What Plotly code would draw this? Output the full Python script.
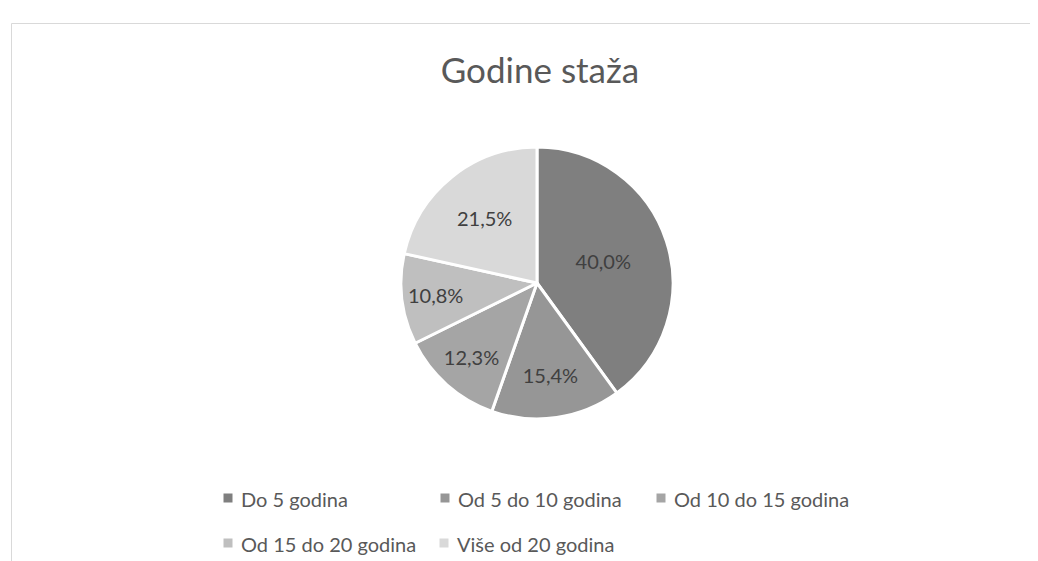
import plotly.graph_objects as go

# ---- data ----
categories = ["Do 5 godina", "Od 5 do 10 godina", "Od 10 do 15 godina",
              "Od 15 do 20 godina", "Više od 20 godina"]
counts = [26, 10, 8, 7, 14]          # 40,0% / 15,4% / 12,3% / 10,8% / 21,5%
title_text = "Godine staža"

# ---- style ----
colors = ["#7f7f7f", "#969696", "#a5a5a5", "#bfbfbf", "#d9d9d9"]
W, H = 1038, 561
FONT = "Lato, 'Open Sans', sans-serif"
cx, cy, r = 529, 275, 136

fig = go.Figure(go.Pie(
    labels=categories,
    values=counts,
    sort=False,
    direction="clockwise",
    rotation=0,
    marker=dict(colors=colors, line=dict(color="white", width=3)),
    texttemplate="%{percent:.1%}",
    textposition="inside",
    insidetextorientation="horizontal",
    textfont=dict(family=FONT, size=20, color="#404040"),
    showlegend=False,
    hoverinfo="label+percent",
    domain=dict(x=[(cx - r) / W, (cx + r) / W],
                y=[1 - (cy + r) / H, 1 - (cy - r) / H]),
))

shapes = []
annotations = []

# chart frame (partially visible)
shapes.append(dict(type="rect", xref="paper", yref="paper",
                   x0=3.5 / W, x1=(W + 5) / W, y0=1 - 15.5 / H, y1=-5 / H,
                   line=dict(color="#d9d9d9", width=1), fillcolor="rgba(0,0,0,0)",
                   layer="below"))

# legend (Excel-like, two rows)
legend_pos = [(220, 490), (437, 490), (653, 490), (220, 535), (436, 535)]
for name, col, (sx, sy) in zip(categories, colors, legend_pos):
    shapes.append(dict(type="rect", xref="paper", yref="paper",
                       xsizemode="pixel", ysizemode="pixel",
                       xanchor=sx / W, yanchor=1 - sy / H,
                       x0=-4.5, x1=4.5, y0=-4.5, y1=4.5,
                       fillcolor=col, line=dict(width=0)))
    annotations.append(dict(text=name, xref="paper", yref="paper",
                            x=(sx + 11) / W, y=1 - (sy + 1) / H,
                            xanchor="left", yanchor="middle", showarrow=False,
                            font=dict(family=FONT, size=20, color="#595959")))

fig.update_layout(
    width=W, height=H,
    margin=dict(l=0, r=0, t=0, b=0),
    paper_bgcolor="white",
    plot_bgcolor="white",
    separators=", ",
    title=dict(text=title_text, x=532 / W, xanchor="center",
               y=1 - 63 / H, yanchor="middle",
               font=dict(family=FONT, size=35, color="#595959")),
    shapes=shapes,
    annotations=annotations,
)

fig.write_html("out.html")
